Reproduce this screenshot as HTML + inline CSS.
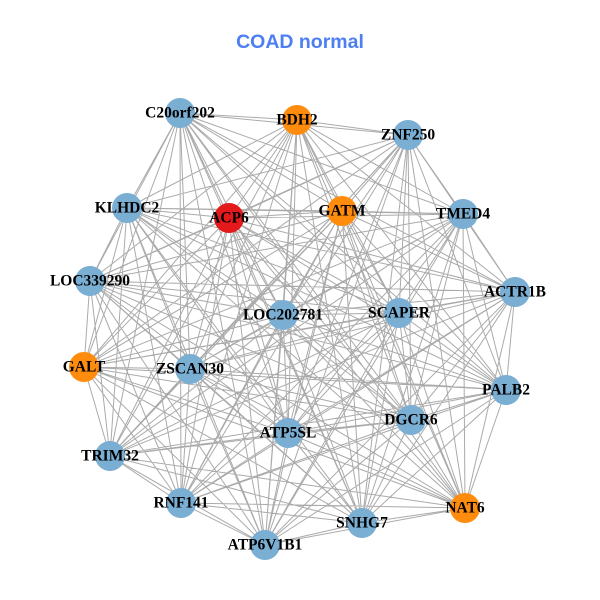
<!DOCTYPE html>
<html><head><meta charset="utf-8"><style>
html,body{margin:0;padding:0;background:#fff;}
svg{display:block;}
.l{font-family:"Liberation Serif",serif;font-weight:bold;font-size:15.5px;fill:#000;text-anchor:middle;dominant-baseline:central;}
</style></head><body>
<svg width="600" height="600" viewBox="0 0 600 600" xmlns="http://www.w3.org/2000/svg">
<rect width="600" height="600" fill="#fff"/>
<text x="300" y="42" text-anchor="middle" dominant-baseline="central" font-family="Liberation Sans, sans-serif" font-weight="bold" font-size="19.5" fill="#4d7ff2">COAD normal</text>
<path fill="none" stroke="#aaaaaa" stroke-width="1" d="
M180 113L297 120M180 113L408 135M180 113L127 208M180 113L229 218M180 113L342 211M180 113L463 214M180 113L90 281M180 113L515 292M180 113L283 315M180 113L399 313M180 113L84 367M180 113L190 369M180 113L506 390M180 113L411 420M180 113L288 433M180 113L110 456M180 113L181 503M180 113L465 508M180 113L362 523M180 113L265 545
M297 120L408 135M297 120L127 208M297 120L229 218M297 120L342 211M297 120L463 214M297 120L90 281M297 120L515 292M297 120L283 315M297 120L399 313M297 120L84 367M297 120L190 369M297 120L506 390M297 120L411 420M297 120L288 433M297 120L110 456M297 120L181 503M297 120L465 508M297 120L362 523M297 120L265 545
M408 135L127 208M408 135L229 218M408 135L342 211M408 135L463 214M408 135L90 281M408 135L515 292M408 135L283 315M408 135L399 313M408 135L84 367M408 135L190 369M408 135L506 390M408 135L411 420M408 135L288 433M408 135L110 456M408 135L181 503M408 135L465 508M408 135L362 523M408 135L265 545
M127 208L229 218M127 208L342 211M127 208L463 214M127 208L90 281M127 208L515 292M127 208L283 315M127 208L399 313M127 208L84 367M127 208L190 369M127 208L506 390M127 208L411 420M127 208L288 433M127 208L110 456M127 208L181 503M127 208L465 508M127 208L362 523M127 208L265 545
M229 218L342 211M229 218L463 214M229 218L90 281M229 218L515 292M229 218L283 315M229 218L399 313M229 218L84 367M229 218L190 369M229 218L506 390M229 218L411 420M229 218L288 433M229 218L110 456M229 218L181 503M229 218L465 508M229 218L362 523M229 218L265 545
M342 211L463 214M342 211L90 281M342 211L515 292M342 211L283 315M342 211L399 313M342 211L84 367M342 211L190 369M342 211L506 390M342 211L411 420M342 211L288 433M342 211L110 456M342 211L181 503M342 211L465 508M342 211L362 523M342 211L265 545
M463 214L90 281M463 214L515 292M463 214L283 315M463 214L399 313M463 214L84 367M463 214L190 369M463 214L506 390M463 214L411 420M463 214L288 433M463 214L110 456M463 214L181 503M463 214L465 508M463 214L362 523M463 214L265 545
M90 281L515 292M90 281L283 315M90 281L399 313M90 281L84 367M90 281L190 369M90 281L506 390M90 281L411 420M90 281L288 433M90 281L110 456M90 281L181 503M90 281L465 508M90 281L362 523M90 281L265 545
M515 292L283 315M515 292L399 313M515 292L84 367M515 292L190 369M515 292L506 390M515 292L411 420M515 292L288 433M515 292L110 456M515 292L181 503M515 292L465 508M515 292L362 523M515 292L265 545
M283 315L399 313M283 315L84 367M283 315L190 369M283 315L506 390M283 315L411 420M283 315L288 433M283 315L110 456M283 315L181 503M283 315L465 508M283 315L362 523M283 315L265 545
M399 313L84 367M399 313L190 369M399 313L506 390M399 313L411 420M399 313L288 433M399 313L110 456M399 313L181 503M399 313L465 508M399 313L362 523M399 313L265 545
M84 367L190 369M84 367L506 390M84 367L411 420M84 367L288 433M84 367L110 456M84 367L181 503M84 367L465 508M84 367L362 523M84 367L265 545
M190 369L506 390M190 369L411 420M190 369L288 433M190 369L110 456M190 369L181 503M190 369L465 508M190 369L362 523M190 369L265 545
M506 390L411 420M506 390L288 433M506 390L110 456M506 390L181 503M506 390L465 508M506 390L362 523M506 390L265 545
M411 420L288 433M411 420L110 456M411 420L181 503M411 420L465 508M411 420L362 523M411 420L265 545
M288 433L110 456M288 433L181 503M288 433L465 508M288 433L362 523M288 433L265 545
M110 456L181 503M110 456L465 508M110 456L362 523M110 456L265 545
M181 503L465 508M181 503L362 523M181 503L265 545
M465 508L362 523M465 508L265 545
M362 523L265 545"/>
<g fill="#7aaed3">
<circle cx="180" cy="113" r="15"/>
<circle cx="408" cy="135" r="15"/>
<circle cx="127" cy="208" r="15"/>
<circle cx="463" cy="214" r="15"/>
<circle cx="90" cy="281" r="15"/>
<circle cx="515" cy="292" r="15"/>
<circle cx="283" cy="315" r="15"/>
<circle cx="399" cy="313" r="15"/>
<circle cx="190" cy="369" r="15"/>
<circle cx="506" cy="390" r="15"/>
<circle cx="411" cy="420" r="15"/>
<circle cx="288" cy="433" r="15"/>
<circle cx="110" cy="456" r="15"/>
<circle cx="181" cy="503" r="15"/>
<circle cx="362" cy="523" r="15"/>
<circle cx="265" cy="545" r="15"/>
</g>
<g fill="#ff8c0d">
<circle cx="297" cy="120" r="15"/>
<circle cx="342" cy="211" r="15"/>
<circle cx="84" cy="367" r="15"/>
<circle cx="465" cy="508" r="15"/>
</g>
<circle cx="229" cy="218" r="15" fill="#e3191c"/>
<text class="l" x="180" y="113">C20orf202</text>
<text class="l" x="297" y="120">BDH2</text>
<text class="l" x="408" y="135">ZNF250</text>
<text class="l" x="127" y="208">KLHDC2</text>
<text class="l" x="229" y="218">ACP6</text>
<text class="l" x="342" y="211">GATM</text>
<text class="l" x="463" y="214">TMED4</text>
<text class="l" x="90" y="281">LOC339290</text>
<text class="l" x="515" y="292">ACTR1B</text>
<text class="l" x="283" y="315">LOC202781</text>
<text class="l" x="399" y="313">SCAPER</text>
<text class="l" x="84" y="367">GALT</text>
<text class="l" x="190" y="369">ZSCAN30</text>
<text class="l" x="506" y="390">PALB2</text>
<text class="l" x="411" y="420">DGCR6</text>
<text class="l" x="288" y="433">ATP5SL</text>
<text class="l" x="110" y="456">TRIM32</text>
<text class="l" x="181" y="503">RNF141</text>
<text class="l" x="465" y="508">NAT6</text>
<text class="l" x="362" y="523">SNHG7</text>
<text class="l" x="265" y="545">ATP6V1B1</text>
</svg>
</body></html>
